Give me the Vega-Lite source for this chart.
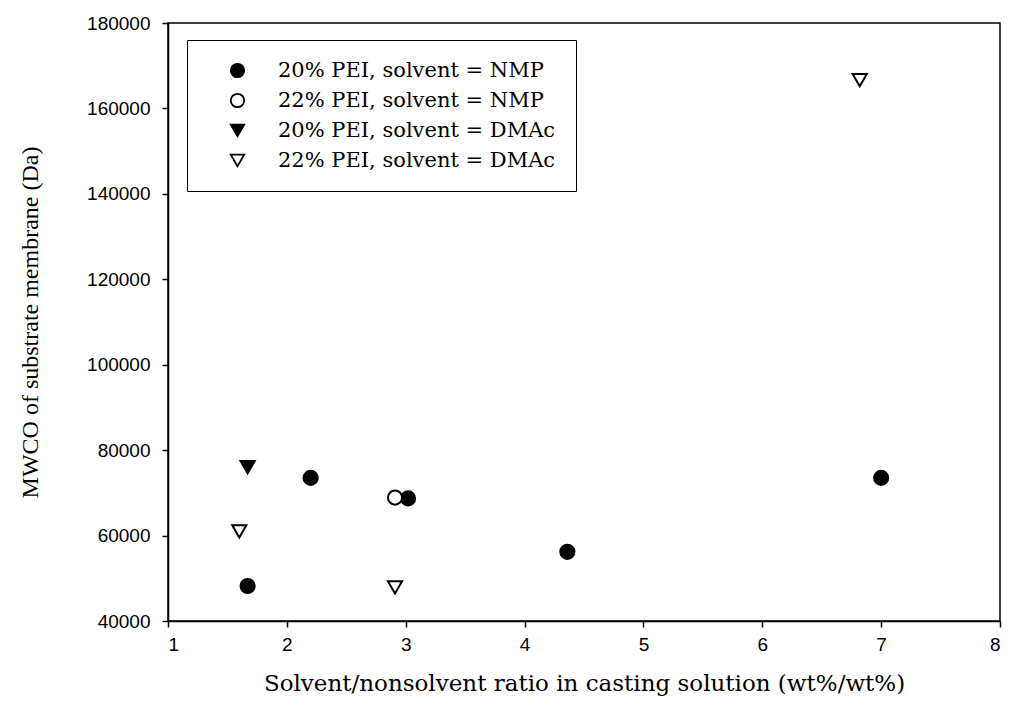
{
  "$schema": "https://vega.github.io/schema/vega-lite/v6.json",
  "width": 832,
  "height": 598,
  "autosize": {"type": "none"},
  "padding": {"left": 168, "top": 23, "right": 10, "bottom": 100},
  "background": "white",
  "config": {
    "view": {"stroke": "black", "strokeWidth": 1.5},
    "axis": {
      "domainColor": "black",
      "domainWidth": 1.5,
      "tickColor": "black",
      "tickWidth": 1.5,
      "tickSize": 6,
      "grid": false,
      "labelFont": "Liberation Sans",
      "labelFontSize": 19,
      "labelColor": "black",
      "titleFontWeight": "normal",
      "titleColor": "black"
    }
  },
  "data": {
    "values": [
      {"ratio": 1.67, "mwco": 48200, "series": "20% PEI, solvent = NMP"},
      {"ratio": 2.2, "mwco": 73500, "series": "20% PEI, solvent = NMP"},
      {"ratio": 3.02, "mwco": 68700, "series": "20% PEI, solvent = NMP"},
      {"ratio": 4.36, "mwco": 56200, "series": "20% PEI, solvent = NMP"},
      {"ratio": 7.0, "mwco": 73500, "series": "20% PEI, solvent = NMP"},
      {"ratio": 2.91, "mwco": 68900, "series": "22% PEI, solvent = NMP"},
      {"ratio": 1.67, "mwco": 76000, "series": "20% PEI, solvent = DMAc"},
      {"ratio": 1.6, "mwco": 61000, "series": "22% PEI, solvent = DMAc"},
      {"ratio": 2.91, "mwco": 47900, "series": "22% PEI, solvent = DMAc"},
      {"ratio": 6.82, "mwco": 166600, "series": "22% PEI, solvent = DMAc"}
    ]
  },
  "mark": {"type": "point", "filled": false, "strokeWidth": 2, "size": 200, "opacity": 1},
  "encoding": {
    "x": {
      "field": "ratio",
      "type": "quantitative",
      "scale": {"domain": [1, 8], "nice": false, "zero": false},
      "axis": {
        "values": [1, 2, 3, 4, 5, 6, 7, 8],
        "labelFontSize": 19,
        "labelPadding": 8,
        "title": "Solvent/nonsolvent ratio in casting solution (wt%/wt%)",
        "titleFont": "DejaVu Serif",
        "titleFontSize": 23,
        "titlePadding": 18
      }
    },
    "y": {
      "field": "mwco",
      "type": "quantitative",
      "scale": {"domain": [40000, 180000], "nice": false, "zero": false},
      "axis": {
        "values": [40000, 60000, 80000, 100000, 120000, 140000, 160000, 180000],
        "format": "d",
        "labelFontSize": 19,
        "labelPadding": 12,
        "title": "MWCO of substrate membrane (Da)",
        "titleFont": "Liberation Serif",
        "titleFontSize": 24,
        "titlePadding": 44
      }
    },
    "shape": {
      "field": "series",
      "type": "nominal",
      "scale": {
        "domain": ["20% PEI, solvent = NMP", "22% PEI, solvent = NMP", "20% PEI, solvent = DMAc", "22% PEI, solvent = DMAc"],
        "range": ["circle", "circle", "triangle-down", "triangle-down"]
      },
      "legend": {
        "title": null,
        "orient": "none",
        "legendX": 19,
        "legendY": 17,
        "padding": 20,
        "symbolOffset": 20,
        "symbolSize": 180,
        "symbolStrokeWidth": 1.8,
        "labelFont": "DejaVu Serif",
        "labelFontSize": 21,
        "labelColor": "black",
        "labelOffset": 30,
        "rowPadding": 8,
        "labelLimit": 400,
        "strokeColor": "black",
        "fillColor": "white",
        "encode": {
          "legend": {"update": {"strokeWidth": {"value": 1.5}}}
        }
      }
    },
    "fill": {
      "field": "series",
      "type": "nominal",
      "scale": {
        "domain": ["20% PEI, solvent = NMP", "22% PEI, solvent = NMP", "20% PEI, solvent = DMAc", "22% PEI, solvent = DMAc"],
        "range": ["black", "white", "black", "white"]
      }
    },
    "stroke": {
      "field": "series",
      "type": "nominal",
      "scale": {
        "domain": ["20% PEI, solvent = NMP", "22% PEI, solvent = NMP", "20% PEI, solvent = DMAc", "22% PEI, solvent = DMAc"],
        "range": ["black", "black", "black", "black"]
      }
    }
  }
}
